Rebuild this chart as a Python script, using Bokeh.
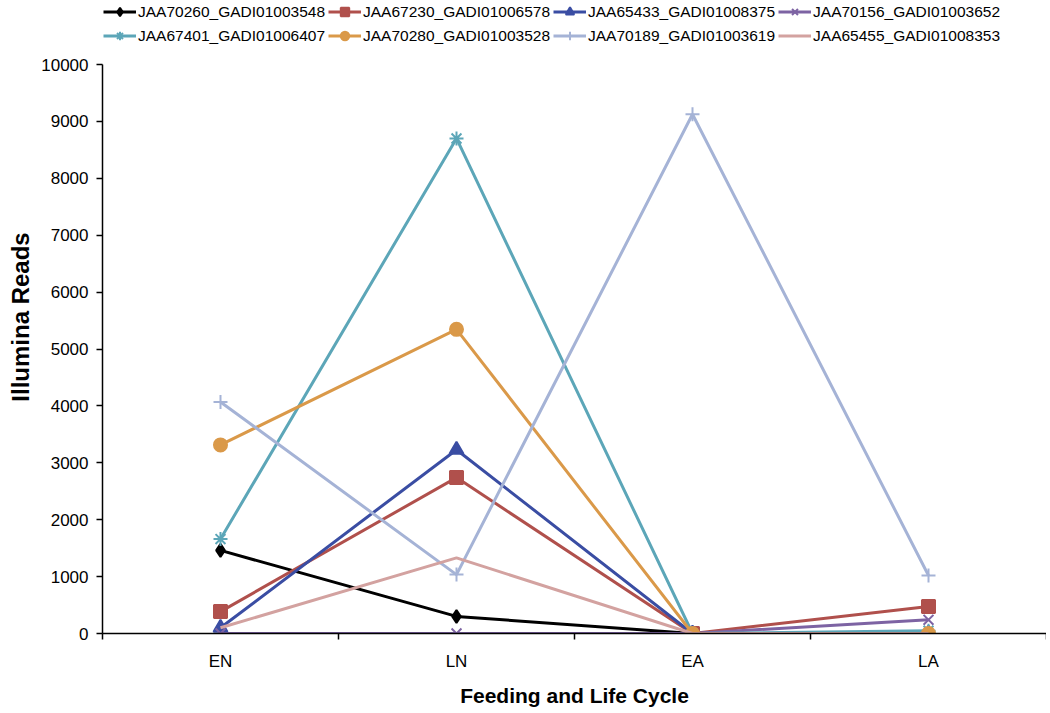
from bokeh.plotting import figure
from bokeh.models import Legend, LegendItem, FixedTicker, Range1d
from bokeh.embed import file_html
from bokeh.resources import INLINE

categories = ["EN", "LN", "EA", "LA"]
series_names = [
    "JAA70260_GADI01003548", "JAA67230_GADI01006578", "JAA65433_GADI01008375",
    "JAA70156_GADI01003652", "JAA67401_GADI01006407", "JAA70280_GADI01003528",
    "JAA70189_GADI01003619", "JAA65455_GADI01008353",
]
jaa70260 = [1460, 300, 0, 0]
jaa67230 = [385, 2740, 0, 475]
jaa65433 = [100, 3230, 0, 0]
jaa70156 = [0, 0, 0, 240]
jaa67401 = [1660, 8700, 0, 50]
jaa70280 = [3315, 5345, 0, 0]
jaa70189 = [4070, 1035, 9125, 1020]
jaa65455 = [100, 1330, 0, 0]
series_values = [jaa70260, jaa67230, jaa65433, jaa70156, jaa67401, jaa70280, jaa70189, jaa65455]
y_ticks = list(range(0, 10001, 1000))
y_max = 10000

colors = ["#000000", "#B0504C", "#3A4DA3", "#7D63A3", "#5CA6B8", "#DA9949", "#A5B3D6", "#D3A2A0"]
markers = ["diamond", "square", "triangle", "x", "asterisk", "circle", "cross", None]
msizes = [13, 13, 14, 14, 14, 13, 14, 0]

xs = [i + 0.5 for i in range(len(categories))]

W, H = 1046, 713
BOTTOM, LEFT = 80, 102
AXIS_TOP = 64          # canvas y of the 10000 line
frame_h = H - BOTTOM
y_end = y_max * frame_h / (frame_h - AXIS_TOP)

p = figure(width=W, height=H, output_backend="svg", toolbar_location=None,
           x_range=Range1d(0, 4), y_range=Range1d(0, y_end),
           min_border_left=LEFT, min_border_right=0, min_border_top=0, min_border_bottom=BOTTOM)
p.outline_line_color = None
p.grid.visible = False
p.background_fill_color = "white"

items = []
for name, vals, c, m, s in zip(series_names, series_values, colors, markers, msizes):
    rs = [p.line(xs, vals, line_color=c, line_width=3)]
    if m is not None:
        rs.append(p.scatter(xs, vals, marker=m, size=s, fill_color=c, line_color=c, line_width=2))
    items.append(LegendItem(label=name, renderers=rs))

ROW_H, SP = 21, 3
legend = Legend(items=items, ncols=4, orientation="horizontal", border_line_color=None,
                background_fill_alpha=0,
                label_text_font="Liberation Sans", label_text_font_size="15.5px",
                label_text_color="black",
                glyph_width=33, glyph_height=ROW_H, label_standoff=2, spacing=SP,
                padding=0, margin=0, label_height=ROW_H,
                location=(1, frame_h - 46))
p.add_layout(legend, "center")

xa = p.xaxis[0]
xa.ticker = FixedTicker(ticks=xs, minor_ticks=[0, 1, 2, 3, 4])
xa.major_label_overrides = {x: c for x, c in zip(xs, categories)}
xa.major_tick_out = 0
xa.major_tick_in = 0
xa.minor_tick_out = 6
xa.minor_tick_in = 0
xa.minor_tick_line_color = "black"
xa.minor_tick_line_width = 1.5
xa.axis_line_width = 1.5
xa.major_label_text_font = "Liberation Sans"
xa.major_label_text_font_size = "17px"
xa.major_label_text_color = "black"
xa.major_label_standoff = 12
xa.axis_label = "Feeding and Life Cycle"
xa.axis_label_text_font = "Liberation Sans"
xa.axis_label_text_font_style = "bold"
xa.axis_label_text_font_size = "21px"
xa.axis_label_text_color = "black"
xa.axis_label_standoff = 10

ya = p.yaxis[0]
ya.ticker = FixedTicker(ticks=y_ticks)
ya.bounds = (0, y_max)
ya.minor_tick_line_color = None
ya.major_tick_out = 6
ya.major_tick_in = 0
ya.major_tick_line_width = 1.5
ya.axis_line_width = 1.5
ya.major_label_text_font = "Liberation Sans"
ya.major_label_text_font_size = "17px"
ya.major_label_text_color = "black"
ya.major_label_standoff = 8
ya.axis_label = "Illumina Reads"
ya.axis_label_text_font = "Liberation Sans"
ya.axis_label_text_font_style = "bold"
ya.axis_label_text_font_size = "24px"
ya.axis_label_text_color = "black"
ya.axis_label_standoff = 4

open("out.html", "w").write(file_html(p, INLINE))
